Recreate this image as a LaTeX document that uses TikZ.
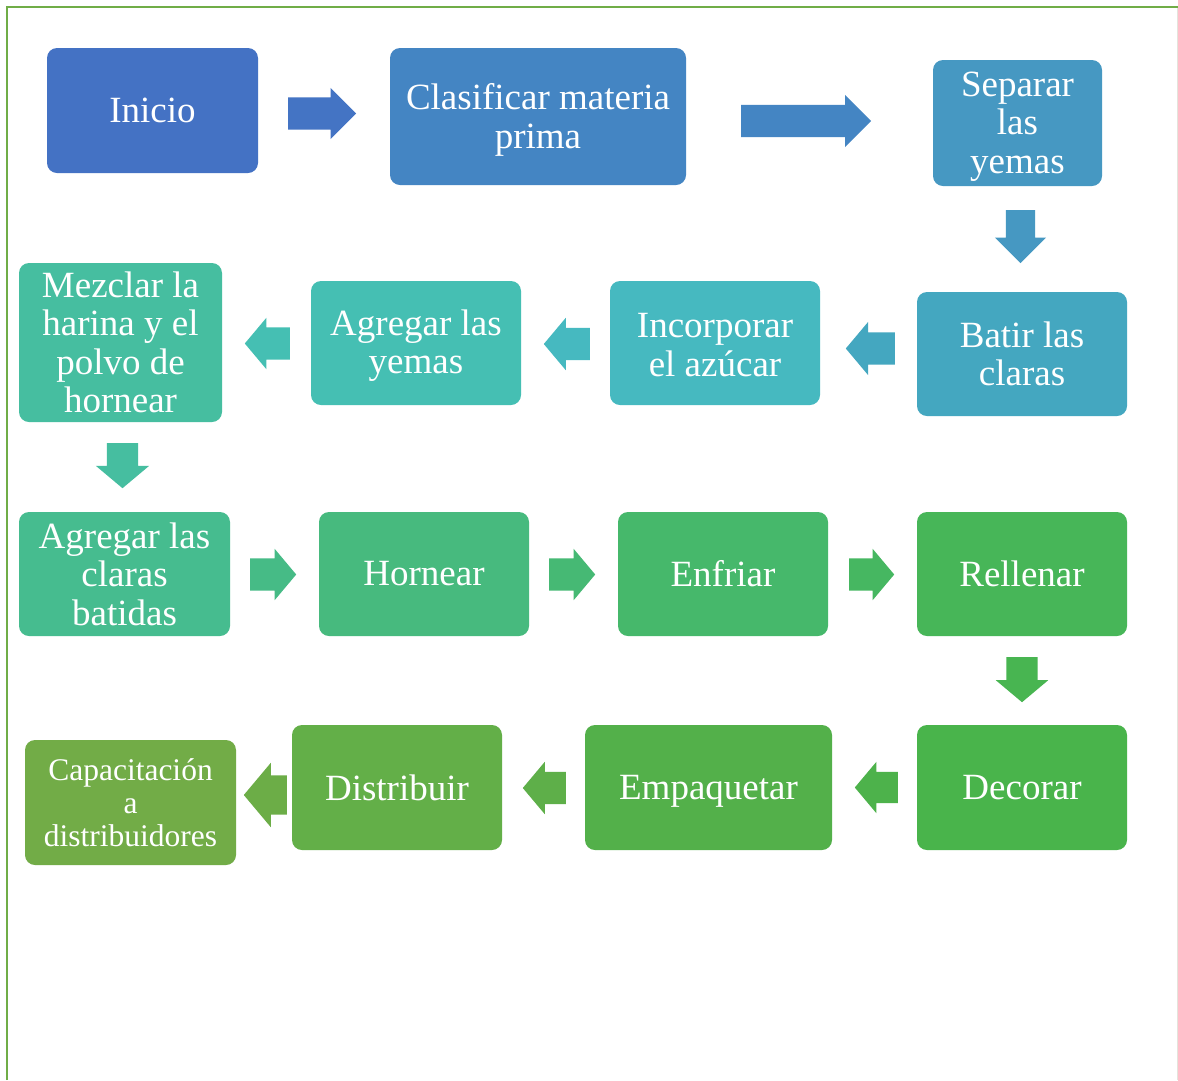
\documentclass[tikz,border=0pt]{standalone}
\usepackage{fontspec}
\setmainfont{Liberation Serif}
\usetikzlibrary{shapes.arrows}

% step colours, from blue through teal to green
\definecolor{cInicio}{HTML}{4472C4}
\definecolor{cClasif}{HTML}{4485C3}
\definecolor{cSeparar}{HTML}{4698C2}
\definecolor{cBatir}{HTML}{44A7C0}
\definecolor{cIncorp}{HTML}{46B9C0}
\definecolor{cAgYemas}{HTML}{45BFB3}
\definecolor{cMezclar}{HTML}{46BEA0}
\definecolor{cAgClaras}{HTML}{46BC8F}
\definecolor{cHornear}{HTML}{47BA7E}
\definecolor{cEnfriar}{HTML}{46B86B}
\definecolor{cRellenar}{HTML}{47B658}
\definecolor{cDecorar}{HTML}{49B44B}
\definecolor{cEmpaq}{HTML}{53B04A}
\definecolor{cDistrib}{HTML}{63AF48}
\definecolor{cCapac}{HTML}{72AC47}
\definecolor{frameGreen}{HTML}{70AD47}
\definecolor{frameGrey}{HTML}{E4E4DC}

% invisible strut that lowers a multi-line label a little
\newcommand{\lowerby}[1]{\rule{0pt}{#1}}

\begin{document}
\begin{tikzpicture}[x=1pt,y=-1pt,
  stepbox/.style={rounded corners=10pt, draw=none, text=white, align=center,
    inner sep=0pt, font=\fontsize{37}{38.5}\selectfont},
  % length, half shaft width, head extension, tip angle; placed by its tail
  blockarr/.style n args={4}{single arrow, draw=none, inner xsep=0pt,
    inner ysep=#2, minimum height=#1, minimum width=0pt,
    single arrow head extend=#3,
    single arrow tip angle=#4, single arrow head indent=0pt, anchor=tail},
  toR/.style={rotate=0},
  toL/.style={rotate=180},
  toD/.style={rotate=-90}
]
\useasboundingbox (0,0) rectangle (1178,1080);
\fill[white] (0,0) rectangle (1178,1080);

% frame
\draw[frameGrey, line width=1pt] (1177,7) -- (1177,1080);
\draw[frameGreen, line width=2.2pt] (7,1080) -- (7,7) -- (1178,7);

% row 1
\node[stepbox, fill=cInicio, minimum width=211, minimum height=125] (inicio) at (152.5,110.5) {Inicio};
\node[stepbox, fill=cClasif, minimum width=296, minimum height=137] (clasif) at (538,116.5) {\lowerby{33pt}Clasificar materia\\prima};
\node[stepbox, fill=cSeparar, minimum width=169, minimum height=126] (separar) at (1017.5,123) {\lowerby{31pt}Separar\\las\\yemas};

% row 2
\node[stepbox, fill=cBatir, minimum width=210, minimum height=124] (batir) at (1022,354) {Batir las\\claras};
\node[stepbox, fill=cIncorp, minimum width=210, minimum height=124] (incorp) at (715,343) {\lowerby{28pt}Incorporar\\el azúcar};
\node[stepbox, fill=cAgYemas, minimum width=210, minimum height=124] (agyemas) at (416,343) {\lowerby{31pt}Agregar las\\yemas};
\node[stepbox, fill=cMezclar, minimum width=203, minimum height=159] (mezclar) at (120.5,342.5) {Mezclar la\\harina y el\\polvo de\\hornear};

% row 3
\node[stepbox, fill=cAgClaras, minimum width=211, minimum height=124] (agclaras) at (124.5,574) {Agregar las\\claras\\batidas};
\node[stepbox, fill=cHornear, minimum width=210, minimum height=124] (hornear) at (424,574) {Hornear};
\node[stepbox, fill=cEnfriar, minimum width=210, minimum height=124] (enfriar) at (723,574) {Enfriar};
\node[stepbox, fill=cRellenar, minimum width=210, minimum height=124] (rellenar) at (1022,574) {Rellenar};

% row 4
\node[stepbox, fill=cDecorar, minimum width=210, minimum height=125] (decorar) at (1022,787.5) {Decorar};
\node[stepbox, fill=cEmpaq, minimum width=247, minimum height=125, text depth=0pt] (empaq) at (708.5,787.5) {Empaquetar};
\node[stepbox, fill=cDistrib, minimum width=210, minimum height=125] (distrib) at (397,787.5) {Distribuir};
\node[stepbox, fill=cCapac, minimum width=211, minimum height=125,
  font=\fontsize{31.5}{33}\selectfont] (capac) at (130.5,802.5) {Capacitación\\a\\distribuidores};

% block arrows between the steps, each placed by its tail
\node[blockarr={68}{16}{9.5}{90}, toR, fill=cInicio!90!cClasif] (a1) at (288,113.5) {};
\node[blockarr={130}{16}{10}{90}, toR, fill=cClasif] (a2) at (741,121) {};
\node[blockarr={53}{14.5}{11}{90}, toD, fill=cSeparar] (a3) at (1020.5,210) {};
\node[blockarr={49}{16}{10.5}{100}, toL, fill=cBatir] (a4) at (895,348.5) {};
\node[blockarr={46}{16}{10}{100}, toL, fill=cIncorp] (a5) at (590,344) {};
\node[blockarr={45}{16}{9.5}{100}, toL, fill=cAgYemas] (a6) at (290,343.5) {};
\node[blockarr={45}{15.5}{11}{100}, toD, fill=cMezclar] (a7) at (122.5,443) {};
\node[blockarr={46}{16}{9.5}{100}, toR, fill=cAgClaras!50!cHornear] (a8) at (250,574.5) {};
\node[blockarr={46}{16}{9.5}{100}, toR, fill=cHornear!50!cEnfriar] (a9) at (549,574.5) {};
\node[blockarr={45}{16}{9.5}{100}, toR, fill=cEnfriar!50!cRellenar] (a10) at (849,574.5) {};
\node[blockarr={45}{15.5}{10.5}{100}, toD, fill=cRellenar!50!cDecorar] (a11) at (1022,657) {};
\node[blockarr={43}{15.5}{10}{100}, toL, fill=cDecorar!60!cEmpaq] (a12) at (898,787.5) {};
\node[blockarr={43}{16}{10}{100}, toL, fill=cEmpaq!30!cDistrib] (a13) at (566,788) {};
\node[blockarr={43}{19.5}{12.5}{100}, toL, fill=cDistrib!40!cCapac] (a14) at (287,795) {};
\end{tikzpicture}
\end{document}
